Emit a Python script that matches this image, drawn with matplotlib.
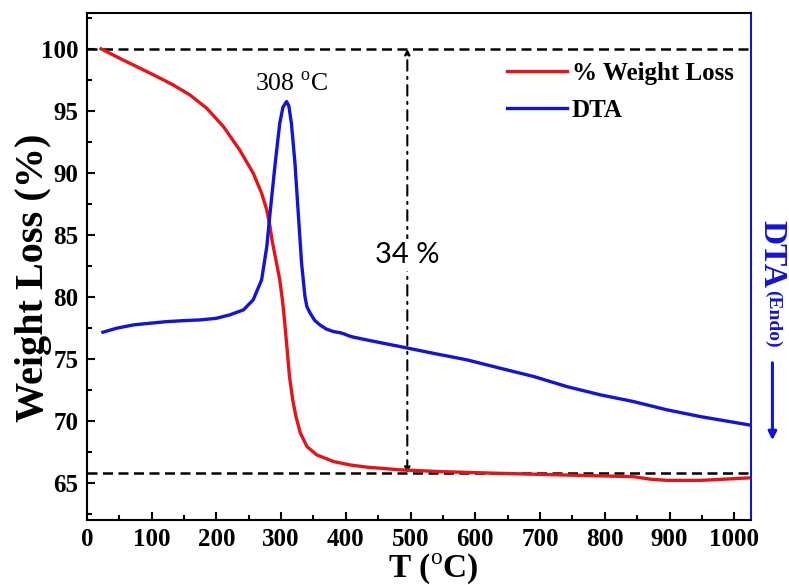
import matplotlib
matplotlib.use("Agg")
import matplotlib.pyplot as plt
from matplotlib.patches import FancyArrowPatch
from matplotlib.ticker import MultipleLocator

plt.rcParams['font.family'] = ['Liberation Serif', 'DejaVu Serif']
plt.rcParams['mathtext.fontset'] = 'custom'
plt.rcParams['mathtext.rm'] = 'Liberation Serif'
plt.rcParams['mathtext.bf'] = 'Liberation Serif:bold'

# TGA curve: temperature (°C) and remaining weight (%)
tga_T = [22, 25, 56, 82, 108, 133, 159, 185, 211, 236, 257, 270, 278, 283,
         286, 292, 298, 302, 305, 309.5, 313, 318, 323, 330, 340, 355, 381,
         406, 432, 484, 550, 650, 750, 844, 870, 896, 948, 1022]
tga_W = [100.0, 99.92, 99.1, 98.44, 97.77, 97.1, 96.29, 95.22, 93.73, 91.85,
         89.98, 88.36, 87.0, 85.67, 84.6, 83.0, 81.37, 79.8, 78.3, 75.7,
         73.6, 71.7, 70.35, 69.0, 67.93, 67.26, 66.72, 66.45, 66.27, 66.05,
         65.9, 65.75, 65.62, 65.5, 65.3, 65.2, 65.2, 65.4]

# DTA curve (arbitrary units, drawn on the weight scale)
dta_T = [25, 46, 72, 97, 123, 149, 175, 200, 221, 242, 257, 270, 278, 283,
         291, 298, 303, 308.6, 312, 316, 321.5, 326.6, 331.7, 337, 340, 345,
         352, 360, 370, 381, 392, 398, 405, 412, 432, 458, 484, 535, 587,
         638, 690, 741, 793, 844, 896, 947, 1022]
dta_V = [77.15, 77.47, 77.74, 77.87, 78.0, 78.08, 78.14, 78.27, 78.55,
         78.95, 79.76, 81.37, 84.06, 86.75, 90.78, 94.0, 95.3, 95.75, 95.4,
         94.0, 90.78, 86.75, 82.72, 80.0, 79.2, 78.68, 78.1, 77.74, 77.4,
         77.2, 77.1, 77.0, 76.85, 76.75, 76.53, 76.26, 75.99, 75.45, 74.92,
         74.25, 73.58, 72.77, 72.10, 71.56, 70.89, 70.35, 69.68]

initial_weight = 100.0
final_weight = 65.8
arrow_T = 495
peak_T = 308
loss_label = "34 %"

fig = plt.figure(figsize=(7.89, 5.85), dpi=100)
ax = fig.add_axes([0.110, 0.111, 0.842, 0.867])

red = '#e3151a'
blue = '#1414d2'

ax.axhline(initial_weight, color='black', lw=1.8, ls=(0, (4, 2.2)), zorder=1)
ax.axhline(final_weight, color='black', lw=1.8, ls=(0, (4, 2.2)), zorder=1)

ax.plot(tga_T, tga_W, color=red, lw=2.4, label='% Weight Loss', zorder=3,
        solid_joinstyle='round')
ax.plot(dta_T, dta_V, color=blue, lw=2.4, label='DTA', zorder=3,
        solid_joinstyle='round')

# double-headed dash-dot arrow marking the total loss
ax.annotate('', xy=(arrow_T, initial_weight), xytext=(arrow_T, final_weight),
            arrowprops=dict(arrowstyle='<|-|>', color='black', lw=1.5,
                            ls=(0, (5, 3, 1, 3)), mutation_scale=8,
                            shrinkA=0, shrinkB=0), zorder=2)
ax.text(arrow_T, 83.4, loss_label, ha='center', va='center', fontsize=21,
        family=['Lato', 'DejaVu Sans'],
        bbox=dict(facecolor='white', edgecolor='none', pad=2), zorder=4)

ax.text(316, 97.1, f'{peak_T} $^{{\\mathrm{{o}}}}$C', ha='center', va='center',
        fontsize=18.5)

ax.set_xlim(0, 1026)
ax.set_ylim(62, 102.9)
ax.xaxis.set_major_locator(MultipleLocator(100))
ax.xaxis.set_minor_locator(MultipleLocator(50))
ax.yaxis.set_major_locator(MultipleLocator(5))
ax.yaxis.set_minor_locator(MultipleLocator(2.5))
ax.tick_params(which='both', direction='in', top=False, right=False,
               width=1.5, labelsize=18)
ax.tick_params(which='major', length=6, pad=6)
ax.tick_params(which='minor', length=3.5)
for lbl in ax.get_xticklabels() + ax.get_yticklabels():
    lbl.set_fontweight('bold')

for side in ['left', 'bottom', 'top']:
    ax.spines[side].set_linewidth(1.5)
ax.spines['right'].set_color(blue)
ax.spines['right'].set_linewidth(1.5)

ax.set_xlabel(r'T ($^{\mathrm{o}}$C)', fontsize=24, fontweight='bold')
ax.xaxis.set_label_coords(0.521, -0.062)
ax.set_ylabel('Weight Loss (%)', fontsize=29, fontweight='bold')
ax.yaxis.set_label_coords(-0.052, 0.477)

leg = ax.legend(loc='center right', bbox_to_anchor=(1.0, 0.844), frameon=False,
                prop=dict(family='Liberation Serif', weight='bold', size=18),
                handlelength=2.4, handletextpad=0.2, labelspacing=0.55,
                borderaxespad=0.3)

# right-hand DTA label with endothermic direction arrow
fig.text(0.978, 1 - 254 / 585, 'DTA', rotation=270, ha='center', va='center',
         fontsize=24, fontweight='bold', color=blue)
fig.text(0.980, 1 - 319 / 585, '(Endo)', rotation=270, ha='center',
         va='center', fontsize=14, fontweight='bold', color=blue)
fig.patches.append(FancyArrowPatch(
    (0.979, 1 - 360 / 585), (0.979, 1 - 443 / 585), transform=fig.transFigure,
    arrowstyle='-|>', mutation_scale=12, color=blue, lw=2.2))

fig.savefig('out.png', dpi=100)
